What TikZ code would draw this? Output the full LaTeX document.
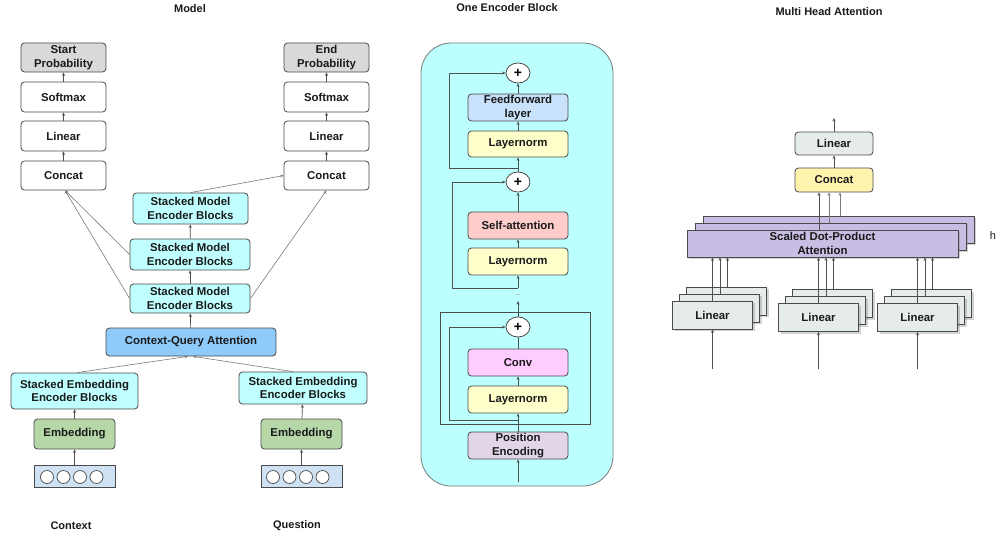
\documentclass[tikz,border=0pt]{standalone}
\usepackage{fontspec}
\setmainfont{Liberation Sans}
\usetikzlibrary{arrows.meta,shapes.geometric,shadows}
\definecolor{boxline}{HTML}{4A4A4A}
\definecolor{lineclr}{HTML}{505050}
\definecolor{lightline}{HTML}{7A7A7A}
\definecolor{txt}{HTML}{1A1A1A}
\definecolor{probgray}{HTML}{D9D9D9}
\definecolor{cyanbox}{HTML}{BFFFFF}
\definecolor{cqablue}{HTML}{8ECAFA}
\definecolor{embgreen}{HTML}{B6D7A8}
\definecolor{inblue}{HTML}{CFE2F3}
\definecolor{blockcyan}{HTML}{BBFFFF}
\definecolor{ffblue}{HTML}{C9E2FB}
\definecolor{lnyellow}{HTML}{FFFFCC}
\definecolor{sapink}{HTML}{FFCCCC}
\definecolor{convpink}{HTML}{FFCCFF}
\definecolor{pepurple}{HTML}{E1D5E7}
\definecolor{mhalin}{HTML}{E5ECEA}
\definecolor{mhacat}{HTML}{FFF3AD}
\definecolor{mhaatt}{HTML}{C8BDE2}
\begin{document}
\begin{tikzpicture}[x=1pt,y=-1pt,
  font=\fontsize{11.4}{13.5}\selectfont\bfseries,
  box/.style={draw=boxline, line width=0.8pt, rounded corners=3.5pt, align=center,
    inner sep=1pt, text=txt},
  mbox/.style={box, minimum width=85, minimum height=29},
  ebox/.style={box, minimum width=100, minimum height=27},
  sqbox/.style={draw=boxline, line width=0.8pt, align=center, inner sep=1pt, text=txt,
    drop shadow={opacity=0.35, shadow xshift=2pt, shadow yshift=-2pt}},
  plusnode/.style={ellipse, draw=boxline, line width=0.8pt, fill=white,
    minimum width=24, minimum height=20, inner sep=0pt,
    font=\fontsize{14}{14}\selectfont\bfseries},
  dot/.style={circle, draw=boxline, line width=0.7pt, fill=white, minimum size=13, inner sep=0pt},
  title/.style={text=txt, font=\fontsize{11}{13}\selectfont\bfseries},
  conn/.style={draw=lineclr, line width=0.7pt, -{Stealth[length=3.5pt,width=3pt]}},
  thin/.style={draw=lightline, line width=0.6pt, -{Stealth[length=3.5pt,width=3pt]}},
  plain/.style={draw=lineclr, line width=0.7pt}
]
\useasboundingbox (0,0) rectangle (1000,535);

% ---------------- Model ----------------
\node[title] (tmodel) at (190,9) {Model};

\node[mbox, fill=probgray] (lstart) at (63.5,57.5) {Start\\Probability};
\node[mbox, minimum height=30] (lsoft) at (63.5,97) {Softmax};
\node[mbox, minimum height=30] (llin) at (63.5,136) {Linear};
\node[mbox] (lcat) at (63.5,175.5) {Concat};

\node[mbox, fill=probgray] (rend) at (326.5,57.5) {End\\Probability};
\node[mbox, minimum height=30] (rsoft) at (326.5,97) {Softmax};
\node[mbox, minimum height=30] (rlin) at (326.5,136) {Linear};
\node[mbox] (rcat) at (326.5,175.5) {Concat};

\node[box, fill=cyanbox, minimum width=115, minimum height=31] (smb3) at (190.5,208.5) {Stacked Model\\Encoder Blocks};
\node[box, fill=cyanbox, minimum width=120, minimum height=31] (smb2) at (190,254.5) {Stacked Model\\Encoder Blocks};
\node[box, fill=cyanbox, minimum width=120, minimum height=29] (smb1) at (190,298.5) {Stacked Model\\Encoder Blocks};

\node[box, fill=cqablue, minimum width=170, minimum height=28] (cqa) at (191,342) {Context-Query Attention};

\node[box, fill=cyanbox, minimum width=127, minimum height=36] (lseb) at (74.5,391) {Stacked Embedding\\Encoder Blocks};
\node[box, fill=cyanbox, minimum width=128, minimum height=32] (rseb) at (303,388) {Stacked Embedding\\Encoder Blocks};

\node[box, fill=embgreen, minimum width=81, minimum height=30] (lemb) at (74.5,434) {Embedding};
\node[box, fill=embgreen, minimum width=81, minimum height=30] (remb) at (301.5,434) {Embedding};

\node[draw=boxline, line width=0.8pt, fill=inblue, minimum width=81, minimum height=22, inner sep=0pt] (lin) at (74.5,476) {};
\node[draw=boxline, line width=0.8pt, fill=inblue, minimum width=81, minimum height=22, inner sep=0pt] (rin) at (301.5,476) {};
\node[dot] (lc1) at (47,477) {};
\node[dot] (lc2) at (63.5,477) {};
\node[dot] (lc3) at (80,477) {};
\node[dot] (lc4) at (96.5,477) {};
\node[dot] (rc1) at (273,477) {};
\node[dot] (rc2) at (289.5,477) {};
\node[dot] (rc3) at (306,477) {};
\node[dot] (rc4) at (322.5,477) {};

\node[title] (lctx) at (71,526) {Context};
\node[title] (lqst) at (297,526) {Question};

% model connectors
\draw[conn] (lin) -- (lemb);
\draw[conn] (rin) -- (remb);
\draw[conn] (lemb) -- (lseb);
\draw[conn] (remb) -- (rseb);
\draw[thin] ([xshift=2.5]lseb.north) -- ([xshift=-3]cqa.south);
\draw[thin] ([xshift=-10]rseb.north) -- ([xshift=2]cqa.south);
\draw[conn] (cqa) -- (smb1);
\draw[conn] (smb1) -- (smb2);
\draw[conn] (smb2) -- (smb3);
\draw[thin] (smb3.north) -- (rcat.west);
\draw[thin] (smb2.west) -- ([xshift=1.5]lcat.south);
\draw[thin] (smb1.west) -- ([xshift=1.5]lcat.south);
\draw[thin] (smb1.east) -- (rcat.south);
\draw[conn] (lcat) -- (llin);
\draw[conn] (llin) -- (lsoft);
\draw[conn] (lsoft) -- (lstart);
\draw[conn] (rcat) -- (rlin);
\draw[conn] (rlin) -- (rsoft);
\draw[conn] (rsoft) -- (rend);

% ---------------- One Encoder Block ----------------
\node[title] (tenc) at (507,8) {One Encoder Block};
\draw[draw=lightline, line width=0.8pt, fill=blockcyan, rounded corners=30pt] (421,43) rectangle (613,486);
\draw[draw=boxline, line width=0.8pt] (440,312) rectangle (590,424);

\node[plusnode] (p1) at (518,73) {+};
\node[ebox, fill=ffblue] (ff) at (518,107.5) {Feedforward\\layer};
\node[ebox, fill=lnyellow, minimum height=26] (ln1) at (518,144) {Layernorm};
\node[plusnode] (p2) at (518,182) {+};
\node[ebox, fill=sapink] (sa) at (518,225.5) {Self-attention};
\node[ebox, fill=lnyellow] (ln2) at (518,261.5) {Layernorm};
\node[text=lightline, font=\fontsize{7}{7}\selectfont] (dots) at (518,295) {...};
\node[plusnode] (p3) at (518,327) {+};
\node[ebox, fill=convpink] (conv) at (518,362.5) {Conv};
\node[ebox, fill=lnyellow] (ln3) at (518,399.5) {Layernorm};
\node[ebox, fill=pepurple] (pe) at (518,445.5) {Position\\Encoding};

\coordinate (ein) at (518,482);
\coordinate (s1) at (518,168);
\coordinate (s2) at (518,288);
\coordinate (s3) at (518,420);
\coordinate (dtop) at (518,301);

\draw[conn] (ein) -- (pe);
\draw[conn] (pe) -- (ln3);
\draw[conn] (ln3) -- (conv);
\draw[plain] (conv) -- (p3);
\draw[conn] (p3) -- (dtop);
\draw[conn] (s3) -- ++(-69,0) |- (p3.west);
\draw[conn] (s2) -- (ln2);
\draw[conn] (s2) -- ++(-66,0) |- (p2.west);
\draw[conn] (ln2) -- (sa);
\draw[conn] (sa) -- (p2);
\draw[conn] (p2) -- (ln1);
\draw[conn] (s1) -- ++(-69,0) |- (p1.west);
\draw[conn] (ln1) -- (ff);
\draw[conn] (ff) -- (p1);

% ---------------- Multi Head Attention ----------------
\node[title] (tmha) at (829,12) {Multi Head Attention};

\node[box, fill=mhalin, minimum width=78, minimum height=23] (mlin) at (834,143.5) {Linear};
\node[box, fill=mhacat, minimum width=78, minimum height=24] (mcat) at (834,180) {Concat};
\coordinate (mout) at (834,118);
\draw[conn] (mlin) -- (mout);
\draw[conn] (mcat) -- (mlin);

% stacked attention heads
\node[sqbox, fill=mhaatt, minimum width=271, minimum height=27] (att3) at (838.5,229.5) {};
\node[sqbox, fill=mhaatt, minimum width=271, minimum height=27] (att2) at (830.5,236.5) {};
\node[sqbox, fill=mhaatt, minimum width=271, minimum height=27] (att1) at (822.5,243.5) {Scaled Dot-Product\\Attention};
\node[text=txt, font=\fontsize{11}{13}\selectfont] (hlabel) at (993,236) {h};

\draw[thin] ([xshift=6]mcat.south |- att3.north) -- ([xshift=6]mcat.south);
\draw[thin] ([xshift=-5]mcat.south |- att2.north) -- ([xshift=-5]mcat.south);
\draw[conn] ([xshift=-15]mcat.south |- att1.north) -- ([xshift=-15]mcat.south);

% linear projections (three stacks)
\foreach \n/\cx/\cy in {a/712.5/315, b/818.5/317.5, c/917.5/317.5}{
  \node[sqbox, fill=mhalin, minimum width=80, minimum height=28] (\n3) at (\cx+14,\cy-14) {};
  \node[sqbox, fill=mhalin, minimum width=80, minimum height=28] (\n2) at (\cx+7,\cy-7) {};
  \node[sqbox, fill=mhalin, minimum width=80, minimum height=28] (\n1) at (\cx,\cy) {Linear};
  \coordinate (\n in) at (\cx,369);
}
\foreach \n in {a,b,c}{
  \draw[conn] (\n in) -- (\n1.south);
  \draw[conn] (\n1.north) -- (\n1.north |- att1.south);
  \draw[conn] ([xshift=0.5]\n2.north) -- ([xshift=0.5]\n2.north |- att1.south);
  \draw[conn] ([xshift=1]\n3.north) -- ([xshift=1]\n3.north |- att1.south);
}
\end{tikzpicture}
\end{document}
